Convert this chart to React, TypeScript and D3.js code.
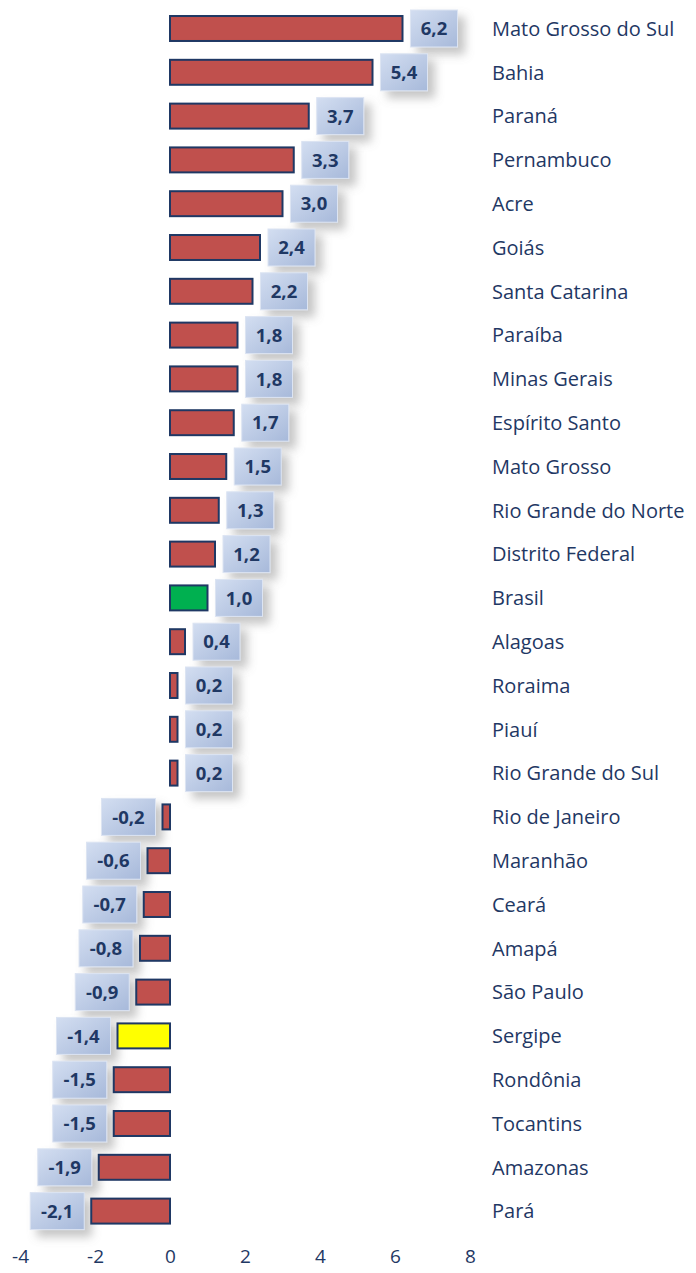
import { useEffect, useRef } from 'react';
import * as d3 from 'd3';

const states = [
  'Mato Grosso do Sul', 'Bahia', 'Paraná', 'Pernambuco', 'Acre', 'Goiás', 'Santa Catarina',
  'Paraíba', 'Minas Gerais', 'Espírito Santo', 'Mato Grosso', 'Rio Grande do Norte',
  'Distrito Federal', 'Brasil', 'Alagoas', 'Roraima', 'Piauí', 'Rio Grande do Sul',
  'Rio de Janeiro', 'Maranhão', 'Ceará', 'Amapá', 'São Paulo', 'Sergipe', 'Rondônia',
  'Tocantins', 'Amazonas', 'Pará',
];

const values = [
  6.2, 5.4, 3.7, 3.3, 3.0, 2.4, 2.2, 1.8, 1.8, 1.7, 1.5, 1.3, 1.2, 1.0, 0.4, 0.2, 0.2, 0.2,
  -0.2, -0.6, -0.7, -0.8, -0.9, -1.4, -1.5, -1.5, -1.9, -2.1,
];

const xTicks = [-4, -2, 0, 2, 4, 6, 8];

const highlight: Record<string, string> = { Brasil: '#00B050', Sergipe: '#FFFF00' };

export default function App() {
  const svgRef = useRef<SVGSVGElement>(null);

  useEffect(() => {
    if (!svgRef.current) return;
    const svg = d3.select(svgRef.current);
    svg.selectAll('*').remove();

    const width = 696;
    const height = 1273;
    const navy = '#1F3864';
    const font = '"Open Sans", "Liberation Sans", sans-serif';
    const fmt = (v: number) => (v < 0 ? '-' : '') + Math.abs(v).toFixed(1).replace('.', ',');

    svg.attr('width', width).attr('height', height);

    const defs = svg.append('defs');
    const grad = defs.append('linearGradient')
      .attr('id', 'boxGrad')
      .attr('x1', '0').attr('y1', '0').attr('x2', '1').attr('y2', '1');
    grad.append('stop').attr('offset', '0%').attr('stop-color', '#D3DEF1');
    grad.append('stop').attr('offset', '100%').attr('stop-color', '#A7B9DA');

    const shadow = defs.append('filter')
      .attr('id', 'boxShadow')
      .attr('x', '-30%').attr('y', '-30%').attr('width', '180%').attr('height', '180%');
    shadow.append('feDropShadow')
      .attr('dx', 7).attr('dy', 7).attr('stdDeviation', 5)
      .attr('flood-color', '#808080').attr('flood-opacity', 0.45);

    const data = states.map((s, i) => ({ name: s, value: values[i] }));

    const x = d3.scaleLinear().domain([-4, 8]).range([20, 470]);
    const y = d3.scaleBand<string>()
      .domain(states)
      .range([6.6, 6.6 + 28 * 43.8])
      .paddingInner(0.43)
      .paddingOuter(0.215);

    // 값 라벨 상자
    const boxH = 37;
    const labels = svg.append('g');
    data.forEach(d => {
      const cy = (y(d.name) || 0) + y.bandwidth() / 2;
      const w = d.value < 0 ? 54 : 47;
      const bx = d.value < 0 ? x(d.value) - 7 - w : x(d.value) + 8;
      const g = labels.append('g');
      g.append('rect')
        .attr('x', bx).attr('y', cy - boxH / 2)
        .attr('width', w).attr('height', boxH)
        .attr('fill', 'url(#boxGrad)')
        .attr('stroke', '#DCE4F2').attr('stroke-width', 1)
        .attr('filter', 'url(#boxShadow)');
      g.append('text')
        .attr('x', bx + w / 2).attr('y', cy)
        .attr('dy', '0.36em')
        .attr('text-anchor', 'middle')
        .attr('fill', navy)
        .attr('font-family', font)
        .attr('font-weight', 700)
        .attr('font-size', '18.5px')
        .text(fmt(d.value));
    });

    // 막대
    svg.append('g')
      .selectAll('rect')
      .data(data)
      .enter()
      .append('rect')
      .attr('x', d => x(Math.min(0, d.value)))
      .attr('y', d => y(d.name) || 0)
      .attr('width', d => Math.abs(x(d.value) - x(0)))
      .attr('height', y.bandwidth())
      .attr('fill', d => highlight[d.name] || '#C0504D')
      .attr('stroke', navy)
      .attr('stroke-width', 2);

    // 주 이름
    svg.append('g')
      .selectAll('text')
      .data(data)
      .enter()
      .append('text')
      .attr('x', 492)
      .attr('y', d => (y(d.name) || 0) + y.bandwidth() / 2)
      .attr('dy', '0.36em')
      .attr('fill', navy)
      .attr('font-family', font)
      .attr('font-size', '20px')
      .text(d => d.name);

    // X 축
    const axis = svg.append('g')
      .attr('transform', 'translate(0,1249)')
      .call(d3.axisBottom(x).tickValues(xTicks).tickSize(0).tickPadding(0).tickFormat(d => fmt(+d).replace(',0', '')));
    axis.select('.domain').remove();
    axis.selectAll('text')
      .attr('fill', navy)
      .attr('font-family', font)
      .attr('font-size', '19px')
      .attr('dy', '0.71em');
  }, []);

  return (
    <div style={{ position: 'absolute', left: 0, top: 0, background: 'white' }}>
      <svg ref={svgRef} style={{ display: 'block' }}></svg>
    </div>
  );
}
